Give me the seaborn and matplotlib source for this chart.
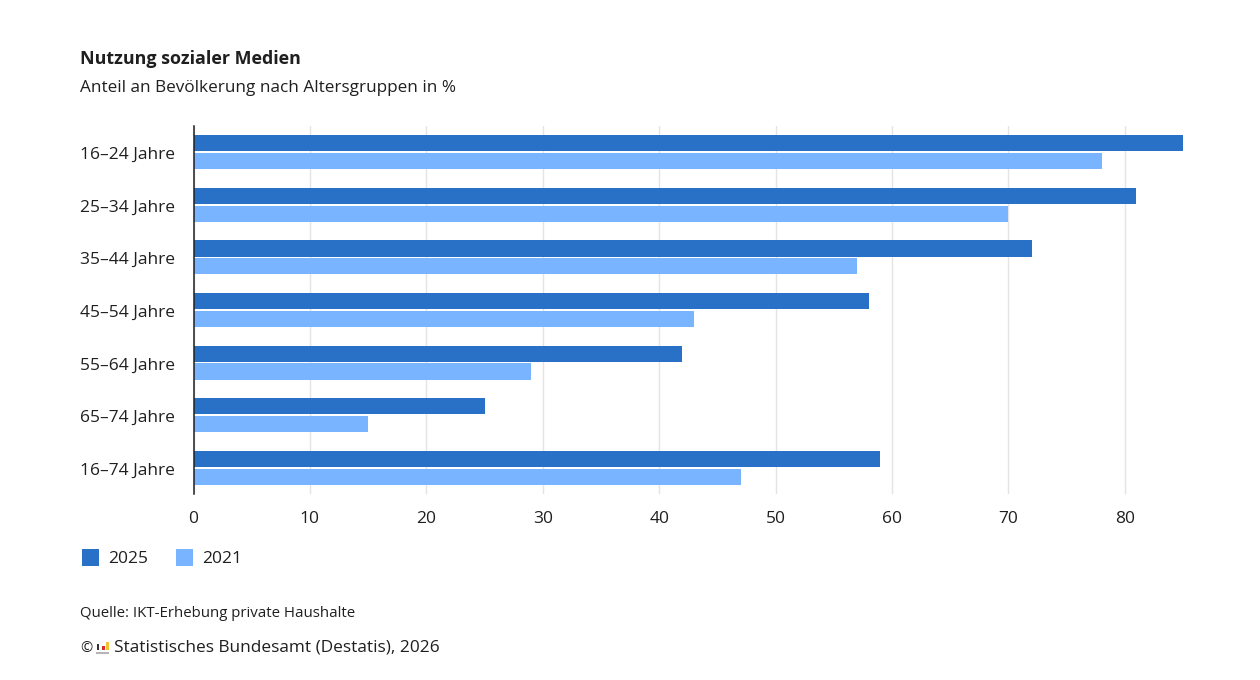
import matplotlib
matplotlib.use("Agg")
import matplotlib.pyplot as plt
from matplotlib.patches import Rectangle
from matplotlib.transforms import ScaledTranslation
import pandas as pd
import seaborn as sns

# values
age_groups = ["16–24 Jahre", "25–34 Jahre", "35–44 Jahre", "45–54 Jahre",
              "55–64 Jahre", "65–74 Jahre", "16–74 Jahre"]
values_2025 = [85, 81, 72, 58, 42, 25, 59]
values_2021 = [78, 70, 57, 43, 29, 15, 47]
x_ticks = [0, 10, 20, 30, 40, 50, 60, 70, 80]

sns.set_theme(style="white")
plt.rcParams["font.family"] = ["Open Sans", "DejaVu Sans"]

df = pd.DataFrame({"Alter": age_groups, "2025": values_2025, "2021": values_2021})
df = df.melt(id_vars="Alter", var_name="Jahr", value_name="Anteil")

text_col = "#1f1f1f"
fig = plt.figure(figsize=(12.6, 6.8), dpi=100)
ax = fig.add_axes([193.5 / 1260, 1 - 494 / 680, (1183 - 193.5) / 1260, (494 - 126) / 680])

sns.barplot(data=df, y="Alter", x="Anteil", hue="Jahr", ax=ax, orient="h",
            palette={"2025": "#2971c7", "2021": "#78b4ff"},
            width=0.68, gap=0.1, saturation=1, legend=False, zorder=3, linewidth=0)

ax.set_xlim(0, 85)
ax.set_xticks(x_ticks)
ax.set_xlabel("")
ax.set_ylabel("")
ax.grid(axis="x", color="#e4e4e4", linewidth=1, zorder=0)
ax.grid(axis="y", visible=False)
for side in ["top", "right", "bottom"]:
    ax.spines[side].set_visible(False)
ax.spines["left"].set_color("#1f1f1f")
ax.spines["left"].set_linewidth(1.1)
ax.spines["left"].set_zorder(5)
ax.tick_params(axis="x", length=0, pad=12, labelsize=12.5, labelcolor=text_col)
ax.tick_params(axis="y", length=0, pad=0, labelsize=12.5, labelcolor=text_col)
# y labels sit a little lower than the bar group centres
shift = ScaledTranslation(0, -0.8 / 100, fig.dpi_scale_trans)
for lab in ax.get_yticklabels():
    lab.set_ha("left")
    lab.set_x(-(193.5 - 80) / (1183 - 193.5))
    lab.set_transform(lab.get_transform() + shift)


def px_text(x, y, s, **kw):
    fig.text(x / 1260, 1 - y / 680, s, va="center", ha="left", color=text_col, **kw)


px_text(80, 58.5, "Nutzung sozialer Medien", fontsize=12.9, fontweight="bold")
px_text(80, 88.5, "Anteil an Bevölkerung nach Altersgruppen in %", fontsize=12.35)

# legend
for x0, col, lab in [(82, "#2971c7", "2025"), (176, "#78b4ff", "2021")]:
    fig.add_artist(Rectangle((x0 / 1260, 1 - 566 / 680), 17 / 1260, 17 / 680,
                             transform=fig.transFigure, color=col, lw=0))
    px_text(x0 + 26, 559, lab, fontsize=12.5)

px_text(80, 613.5, "Quelle: IKT-Erhebung private Haushalte", fontsize=10.8)
px_text(114, 648, "Statistisches Bundesamt (Destatis), 2026", fontsize=12.45)
px_text(80, 649, "©", fontsize=10.5)

# small logo next to the copyright sign
for x0, y0, w, h, col in [(96, 654, 13, 2.5, "#b5b5b5"), (97, 650, 2.5, 6, "#333333"),
                          (102, 650, 3, 4, "#d0312d"), (106, 650, 3, 8, "#f2c230")]:
    fig.add_artist(Rectangle((x0 / 1260, 1 - y0 / 680), w / 1260, h / 680,
                             transform=fig.transFigure, color=col, lw=0))

fig.savefig("out.png", dpi=100, facecolor="white")
